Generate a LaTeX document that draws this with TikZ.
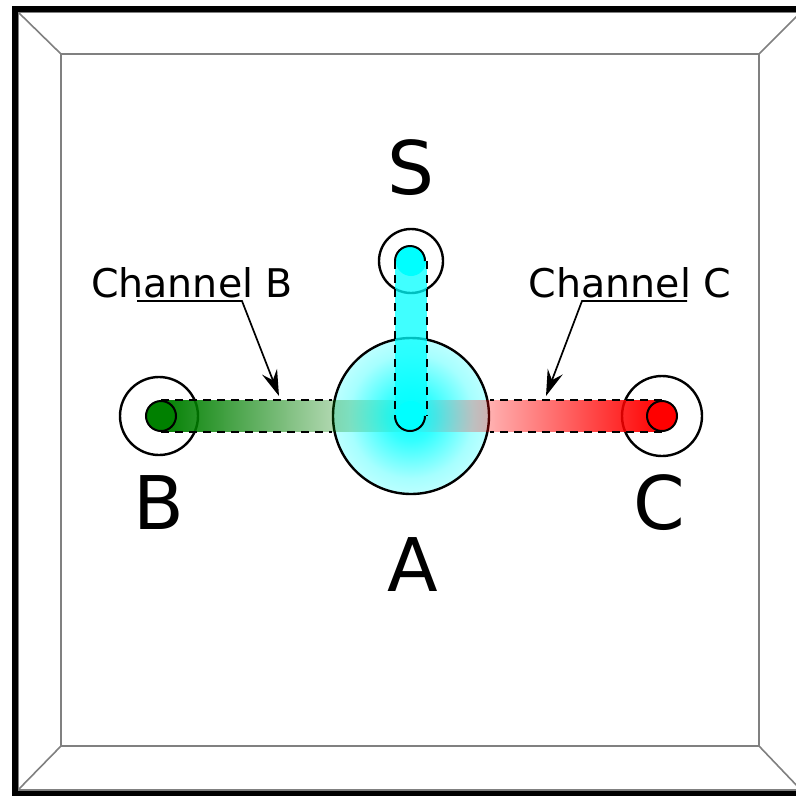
\documentclass[tikz,border=0pt]{standalone}
\usepackage{fontspec}
\setmainfont{DejaVu Sans}
\usetikzlibrary{arrows.meta,fadings}
\definecolor{cyn}{rgb}{0,1,1}
\definecolor{grn}{rgb}{0,0.5,0}
\definecolor{rd}{rgb}{1,0,0}
\pgfdeclareradialshading{Aglow}{\pgfpoint{0bp}{0bp}}{color(0bp)=(cyn); color(8bp)=(cyn!80); color(20bp)=(cyn!35); color(32bp)=(cyn!14); color(50bp)=(cyn!6)}
\pgfdeclarelayer{back}
\pgfdeclarelayer{bg}
\pgfdeclarelayer{bars}
\pgfsetlayers{back,bg,bars,main}
\begin{document}
\begin{tikzpicture}[x=1pt,y=-1pt,
  framegray/.style={draw=black!50, line width=1.6pt},
  ring/.style={circle, draw=black, line width=2.4pt, inner sep=0pt},
  dot/.style={circle, inner sep=0pt, minimum size=30pt, line width=2pt},
  dashes/.style={draw=black, line width=1.7pt, dash pattern=on 8pt off 6pt},
  lead/.style={draw=black, line width=1.7pt},
  tip/.style={-{Stealth[length=26pt,width=16pt,inset=9pt]}},
  biglbl/.style={inner sep=0pt, font=\fontsize{74}{74}\selectfont},
  chlbl/.style={inner sep=0pt, anchor=base, font=\fontsize{39.5}{40}\selectfont}]
\useasboundingbox (0,0) rectangle (796,796);
\begin{pgfonlayer}{back}
\fill[white] (0,0) rectangle (796,796);
\end{pgfonlayer}
% frame
\begin{scope}
\clip (0,0) rectangle (796,796);
\draw[framegray] (18,12) rectangle (801,790);
\draw[framegray] (61,54) rectangle (759,746);
\coordinate (o1) at (18,12); \coordinate (i1) at (61,54);
\coordinate (o2) at (801,12); \coordinate (i2) at (759,54);
\coordinate (o3) at (801,790); \coordinate (i3) at (759,746);
\coordinate (o4) at (18,790); \coordinate (i4) at (61,746);
\draw[framegray] (o1) -- (i1) (o2) -- (i2) (o3) -- (i3) (o4) -- (i4);
\draw[black, line width=6.5pt] (15,9) rectangle (806,794);
\end{scope}
% centres
\coordinate (Ac) at (411,416);
\coordinate (Sc) at (411,261);
\coordinate (Bc) at (161,416);
\coordinate (Cc) at (662,416);
\begin{pgfonlayer}{bg}
\node[ring, minimum size=156pt, shading=Aglow] (Abig) at (Ac) {};
\node[ring, minimum size=64pt] (Sring) at (Sc) {};
\node[ring, minimum size=78pt] (Bring) at (159,416) {};
\node[ring, minimum size=80pt] (Cring) at (Cc) {};
\end{pgfonlayer}
% inner dots
\node[dot, fill=grn, draw=black] (b) at (Bc) {};
\node[dot, fill=rd, draw=black] (c) at (Cc) {};
\node[dot, fill=cyn] (s) at (Sc) {};
\node[dot, fill=cyn] (a) at (Ac) {};
\begin{pgfonlayer}{bars}
\fill[grn, path fading=east] (b.north) rectangle (a.south);
\fill[rd, path fading=west] (a.north) rectangle (c.south);
\draw[dashes] (b.north) -- (b.north -| Abig.west);
\draw[dashes] (b.south) -- (b.south -| Abig.west);
\draw[dashes] (c.north) -- (c.north -| Abig.east);
\draw[dashes] (c.south) -- (c.south -| Abig.east);
\end{pgfonlayer}
% cyan channel S-A
\fill[cyn, opacity=0.75] (s.west) rectangle (a.east);
\draw[dashes] (s.west) -- (a.west);
\draw[dashes] (s.east) -- (a.east);
\draw[line width=2pt] (s.west) arc[start angle=180, end angle=360, radius=15];
\draw[line width=2pt] (a.west) arc[start angle=180, end angle=0, radius=15];
% letters
\node[biglbl] (labS) at (411,168) {S};
\node[biglbl] (labA) at (413,565) {A};
\node[biglbl] (labB) at (159,503) {B};
\node[biglbl] (labC) at (659,503) {C};
% channel labels
\node[chlbl] (chB) at (192,297) {Channel B};
\node[chlbl] (chC) at (630,297) {Channel C};
\coordinate (uB1) at (137,301); \coordinate (uB2) at (242,301); \coordinate (tB) at (279,396);
\coordinate (uC1) at (687,301); \coordinate (uC2) at (582,301); \coordinate (tC) at (546,396);
\draw[lead, tip] (uB1) -- (uB2) -- (tB);
\draw[lead, tip] (uC1) -- (uC2) -- (tC);
\end{tikzpicture}
\end{document}
